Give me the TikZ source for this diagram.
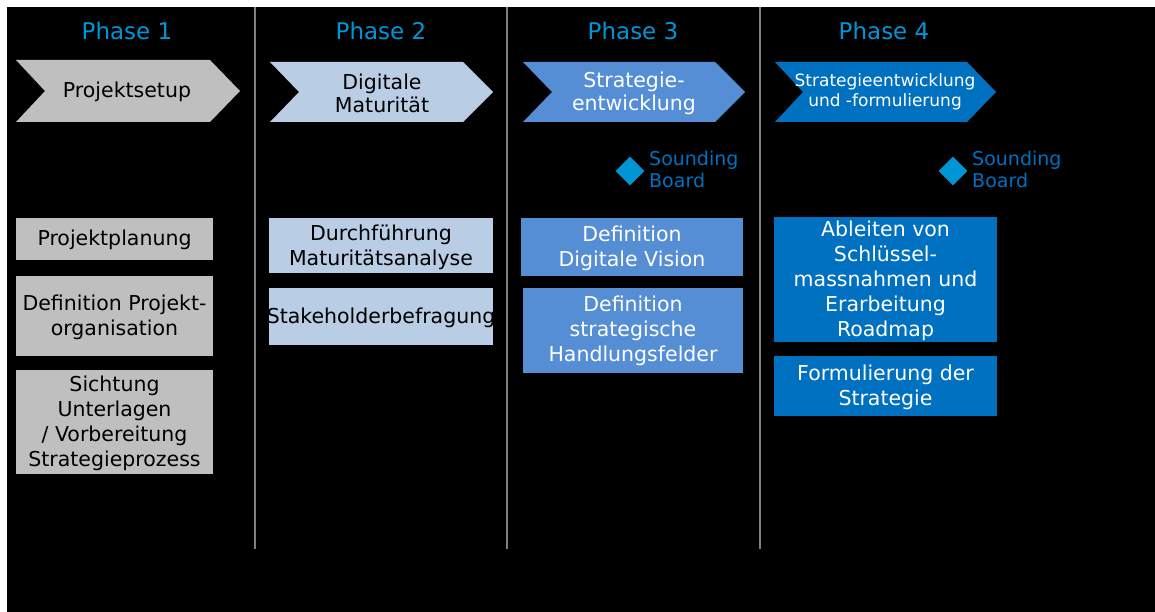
\documentclass[tikz,border=0pt]{standalone}
\usepackage{fontspec}
\setmainfont{DejaVu Sans}
\usetikzlibrary{shapes.geometric}

\definecolor{phgray}{HTML}{BFBFBF}
\definecolor{phlight}{HTML}{B9CDE5}
\definecolor{phmid}{HTML}{558ED5}
\definecolor{phdark}{HTML}{0070C0}
\definecolor{phtitle}{HTML}{0096D6}
\definecolor{phline}{HTML}{7F7F7F}

\tikzset{
  phase/.style={text=phtitle, inner sep=0pt, font=\fontsize{23}{26}\selectfont},
  chevtext/.style={inner sep=0pt, align=center, font=\fontsize{20.5}{23}\selectfont},
  task/.style={inner sep=0pt, align=center, font=\fontsize{20.5}{25}\selectfont},
  sep/.style={phline, line width=1.5pt},
  board/.style={diamond, fill=phtitle, inner sep=0pt, minimum size=29pt},
  boardtext/.style={anchor=west, inner sep=0pt, align=left, text=phdark,
    font=\fontsize{19}{22}\selectfont},
}

\begin{document}
\begin{tikzpicture}[x=1pt, y=-1pt]
    \fill[white] (0,0) rectangle (1155,612);
    \fill[black] (7,7) rectangle (1155,612);
    \useasboundingbox (0,0) rectangle (1155,612);

    % separators
    \draw[sep] (255,7) -- (255,549);
    \draw[sep] (507,7) -- (507,549);
    \draw[sep] (760,7) -- (760,549);

    % titles
    \node[phase] (ph1) at (127,31) {Phase 1};
    \node[phase] (ph2) at (381,31) {Phase 2};
    \node[phase] (ph3) at (633,31) {Phase 3};
    \node[phase] (ph4) at (884,31) {Phase 4};

    % chevrons
    \fill[phgray]  (16,60) -- (210,60) -- (240,91) -- (210,122) -- (16,122) -- (45,91) -- cycle;
    \fill[phlight] (270,62) -- (463,62) -- (493,92) -- (463,122) -- (270,122) -- (299,92) -- cycle;
    \fill[phmid]   (523,62) -- (715,62) -- (745,92) -- (715,122) -- (523,122) -- (552,92) -- cycle;
    \fill[phdark]  (775,62) -- (967,62) -- (996,92) -- (967,122) -- (775,122) -- (803,92) -- cycle;
    \node[chevtext] (setup) at (127,92) {Projektsetup};
    \node[chevtext] (matur) at (382,93) {Digitale\\Maturität};
    \node[chevtext, text=white] (strat) at (634,93) {Strategie-\\entwicklung};
    \node[chevtext, text=white, font=\fontsize{17}{20}\selectfont] (formul) at (885,92) {Strategieentwicklung\\und -formulierung};

    % sounding boards
    \node[board] (sb3) at (630,171) {};
    \node[boardtext] (sb3t) at (649,169) {Sounding\\Board};
    \node[board] (sb4) at (953,171) {};
    \node[boardtext] (sb4t) at (972,169) {Sounding\\Board};

    % phase 1 tasks
    \fill[phgray] (16,218) rectangle (213,260);
    \fill[phgray] (16,276) rectangle (213,356);
    \fill[phgray] (16,370) rectangle (213,474);
    \node[task] (plan) at (114.5,240) {Projektplanung};
    \node[task] (orga) at (114.5,317) {Definition Projekt-\\organisation};
    \node[task] (sicht) at (114.5,423) {Sichtung\\Unterlagen\\/ Vorbereitung\\Strategieprozess};

    % phase 2 tasks
    \fill[phlight] (269,218) rectangle (493,273);
    \fill[phlight] (269,288) rectangle (493,345);
    \node[task] (analyse) at (381,247) {Durchführung\\Maturitätsanalyse};
    \node[task] (befrag) at (381,318) {Stakeholderbefragung};

    % phase 3 tasks
    \fill[phmid] (521,218) rectangle (743,276);
    \fill[phmid] (523,288) rectangle (743,373);
    \node[task, text=white] (vision) at (632,248) {Definition\\Digitale Vision};
    \node[task, text=white] (felder) at (633,331) {Definition\\strategische\\Handlungsfelder};

    % phase 4 tasks
    \fill[phdark] (774,217) rectangle (997,342);
    \fill[phdark] (774,356) rectangle (997,416);
    \node[task, text=white] (roadmap) at (885.5,281) {Ableiten von\\Schlüssel-\\massnahmen und\\Erarbeitung\\Roadmap};
    \node[task, text=white] (strategie) at (885.5,387) {Formulierung der\\Strategie};
\end{tikzpicture}
\end{document}
